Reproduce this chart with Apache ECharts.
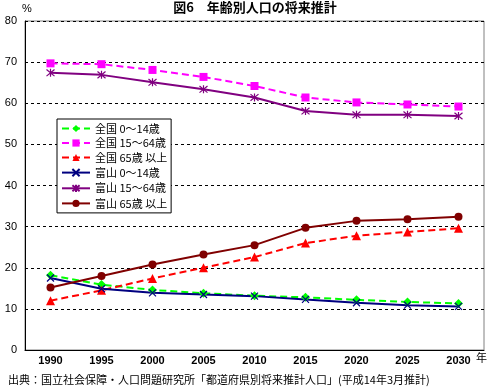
<!DOCTYPE html>
<html><head><meta charset="utf-8">
<script src="https://cdn.jsdelivr.net/npm/echarts@6/dist/echarts.min.js"></script>
<style>html,body{margin:0;padding:0;background:#fff}#c{width:493px;height:390px}</style>
</head><body><div id="c"></div>
<script>
const years = ['1990','1995','2000','2005','2010','2015','2020','2025','2030'];
const yTicks = [0,10,20,30,40,50,60,70,80];
const seriesNames = ['全国 0～14歳','全国 15～64歳','全国 65歳 以上','富山 0～14歳','富山 15～64歳','富山 65歳 以上'];
const zenkoku0_14 = [18.2, 15.9, 14.6, 13.8, 13.2, 12.8, 12.2, 11.7, 11.3];
const zenkoku15_64 = [69.7, 69.5, 68.1, 66.4, 64.2, 61.4, 60.2, 59.7, 59.2];
const zenkoku65 = [12.0, 14.5, 17.4, 20.0, 22.6, 26.0, 27.8, 28.7, 29.6];
const toyama0_14 = [17.5, 14.9, 13.9, 13.5, 13.1, 12.3, 11.5, 10.9, 10.6];
const toyama15_64 = [67.4, 66.9, 65.1, 63.4, 61.4, 58.1, 57.2, 57.2, 56.9];
const toyama65 = [15.2, 18.0, 20.8, 23.2, 25.5, 29.7, 31.4, 31.8, 32.4];

const symX = 'path://M0,0L10,10M10,0L0,10';
const symAst = 'path://M0,0L10,10M10,0L0,10M5,-1L5,11';
function mk(name, data, color, dashed, symbol, size, strokeSym) {
  return {
    name, type: 'line', data, symbol, symbolSize: size,
    lineStyle: {color, width: 2, type: dashed ? [7,4] : 'solid'},
    itemStyle: strokeSym ? {color: 'none', borderColor: color, borderWidth: 1.2} : {color, borderColor: color, borderWidth: 0},
    emphasis: {disabled: true}, animation: false, z: 3
  };
}
const chart = echarts.init(document.getElementById('c'));
const fontNum = 'Liberation Sans, Arial, sans-serif';
const fontJp = '"Noto Sans CJK JP", sans-serif';
chart.setOption({
  animation: false,
  title: {text: '図6　年齢別人口の将来推計', left: 255, top: 1, padding: 0, textAlign: 'center',
    textStyle: {fontFamily: fontJp, fontSize: 13, fontWeight: 'bold', color: '#000'}},
  grid: {left: 25, right: 9, top: 21, bottom: 40, show: true, borderColor: '#808080', borderWidth: 1},
  legend: {
    orient: 'vertical', left: 57, top: 119, padding: [4, 4, 4, 4], itemGap: 3.5,
    itemWidth: 28, itemHeight: 9, backgroundColor: '#fff', borderColor: '#000', borderWidth: 1,
    textStyle: {fontFamily: fontJp, fontSize: 11, color: '#000'},
    data: seriesNames
  },
  xAxis: {
    type: 'category', data: years, boundaryGap: true,
    axisLine: {lineStyle: {color: '#000', width: 1}},
    axisTick: {inside: true, length: 4, interval: 0, lineStyle: {color: '#000'}},
    axisLabel: {fontFamily: fontNum, fontSize: 11, fontWeight: 'bold', color: '#000', margin: 5, interval: 0},
    splitLine: {show: false}
  },
  yAxis: {
    type: 'value', min: yTicks[0], max: yTicks[yTicks.length-1], interval: 10,
    axisLine: {show: true, lineStyle: {color: '#000', width: 1}},
    axisTick: {show: false},
    axisLabel: {fontFamily: fontNum, fontSize: 11, color: '#000', margin: 8},
    splitLine: {lineStyle: {color: '#000', type: [3,3], width: 1}}
  },
  graphic: [
    {type: 'text', left: 22, top: 3, style: {text: '%', font: '11px ' + fontNum, fill: '#000'}},
    {type: 'text', left: 476, top: 352, style: {text: '年', font: '11px ' + fontJp, fill: '#000'}},
    {type: 'text', left: 8, top: 374, style: {text: '出典：国立社会保障・人口問題研究所「都道府県別将来推計人口」(平成14年3月推計)', font: '11px ' + fontJp, fill: '#000'}}
  ],
  series: [
    mk(seriesNames[0], zenkoku0_14, '#00FF00', true, 'diamond', 9, false),
    mk(seriesNames[1], zenkoku15_64, '#FF00FF', true, 'rect', 8, false),
    mk(seriesNames[2], zenkoku65, '#FF0000', true, 'triangle', 9, false),
    mk(seriesNames[3], toyama0_14, '#000080', false, symX, 7, true),
    mk(seriesNames[4], toyama15_64, '#800080', false, symAst, 8, true),
    mk(seriesNames[5], toyama65, '#800000', false, 'circle', 8, false)
  ]
});
</script></body></html>
